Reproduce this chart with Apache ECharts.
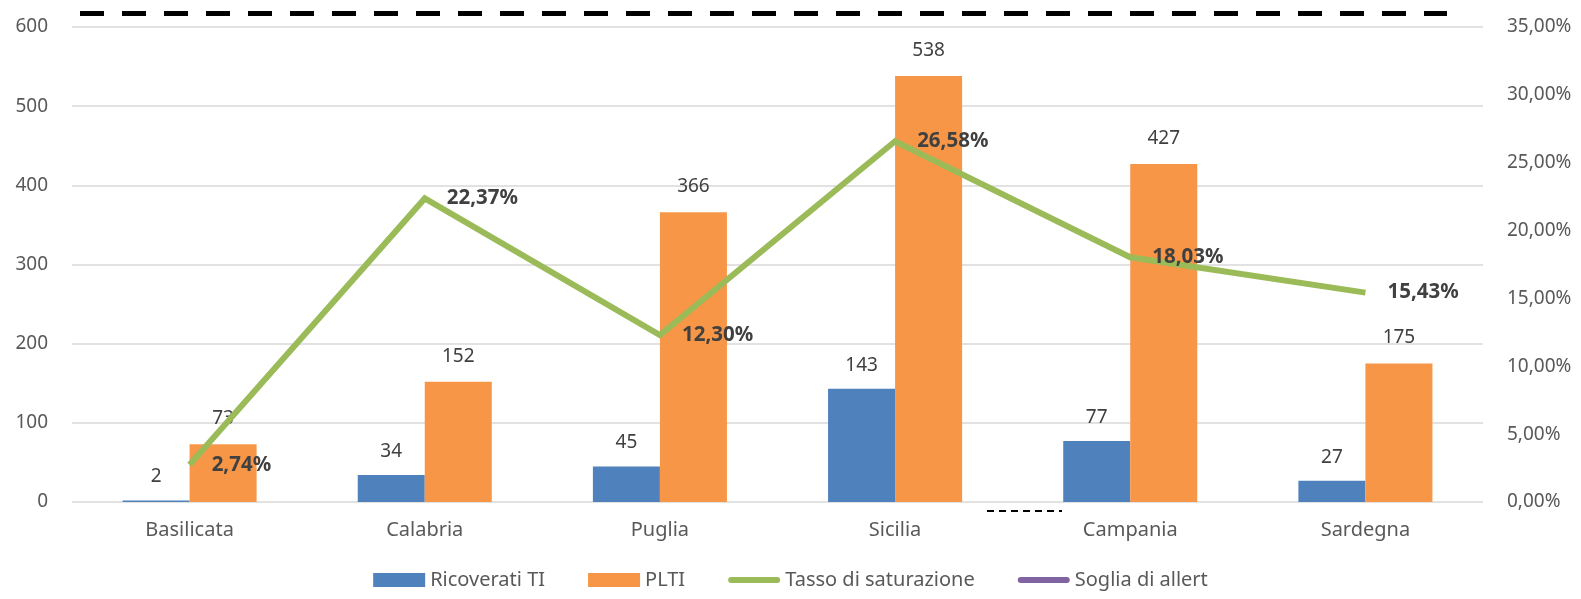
<!DOCTYPE html>
<html>
<head>
<meta charset="utf-8">
<script src="https://cdn.jsdelivr.net/npm/echarts@6/dist/echarts.min.js"></script>
<style>
html,body{margin:0;padding:0;background:#fff;}
#chart{width:1581px;height:599px;}
</style>
</head>
<body>
<div id="chart"></div>
<script>
const categories = ['Basilicata', 'Calabria', 'Puglia', 'Sicilia', 'Campania', 'Sardegna'];
const ricoverati = [2, 34, 45, 143, 77, 27];
const plti = [73, 152, 366, 538, 427, 175];
const tasso = [0.0274, 0.2237, 0.1230, 0.2658, 0.1803, 0.1543];
const sogliaLevel = 0.36;
const leftTicks = { min: 0, max: 600, interval: 100 };
const rightTicks = { min: 0, max: 0.35, interval: 0.05 };

const FONT = 'Noto Sans';
const pct = v => (v * 100).toFixed(2).replace('.', ',') + '%';
const lineIcon = 'path://M3,0 L49,0 A3,3 0 0 1 49,6 L3,6 A3,3 0 0 1 3,0 Z';

const chart = echarts.init(document.getElementById('chart'));
chart.setOption({
  animation: false,
  textStyle: { fontFamily: FONT },
  grid: [
    { left: 72, right: 98, top: 27, bottom: 97, containLabel: false },
    { left: 80, right: 134, top: 0, bottom: 97, containLabel: false }
  ],
  legend: {
    bottom: 4,
    left: 'center',
    itemWidth: 52,
    itemHeight: 14,
    itemGap: 43,
    symbolKeepAspect: true,
    textStyle: { fontFamily: FONT, fontSize: 20, color: '#595959' },
    data: [
      { name: 'Ricoverati TI', icon: 'rect' },
      { name: 'PLTI', icon: 'rect' },
      { name: 'Tasso di saturazione', icon: lineIcon },
      { name: 'Soglia di allert', icon: lineIcon }
    ]
  },
  xAxis: [
    {
      type: 'category',
      data: categories,
      axisLine: { show: false },
      axisTick: { show: false },
      axisLabel: { fontFamily: FONT, fontSize: 20, color: '#595959', margin: 18 }
    },
    {
      type: 'category',
      gridIndex: 1,
      data: categories,
      show: false
    }
  ],
  yAxis: [
    {
      type: 'value',
      min: leftTicks.min, max: leftTicks.max, interval: leftTicks.interval,
      axisLine: { show: false }, axisTick: { show: false },
      splitLine: { lineStyle: { color: '#d9d9d9', width: 1.5 } },
      axisLabel: { fontFamily: FONT, fontSize: 19, color: '#595959', margin: 24 }
    },
    {
      type: 'value',
      min: rightTicks.min, max: rightTicks.max, interval: rightTicks.interval,
      axisLine: { show: false }, axisTick: { show: false },
      splitLine: { show: false },
      axisLabel: { fontFamily: FONT, fontSize: 19, color: '#595959', margin: 24, formatter: pct }
    },
    {
      type: 'value',
      gridIndex: 1,
      min: 0, max: 0.37,
      show: false,
      splitLine: { show: false }
    }
  ],
  series: [
    {
      name: 'Ricoverati TI',
      type: 'bar',
      data: ricoverati,
      barWidth: '28.5%',
      barGap: '0%',
      itemStyle: { color: '#4F81BD' },
      label: { show: true, position: 'top', distance: 14, fontFamily: FONT, fontSize: 19, color: '#404040' }
    },
    {
      name: 'PLTI',
      type: 'bar',
      data: plti,
      barWidth: '28.5%',
      barGap: '0%',
      itemStyle: { color: '#F79646' },
      label: { show: true, position: 'top', distance: 16, fontFamily: FONT, fontSize: 19, color: '#404040' }
    },
    {
      name: 'Tasso di saturazione',
      type: 'line',
      yAxisIndex: 1,
      data: tasso,
      symbol: 'circle',
      showSymbol: true,
      symbolSize: 0.1,
      clip: false,
      lineStyle: { color: '#9BBB59', width: 6, join: 'miter' },
      itemStyle: { color: '#9BBB59' },
      label: {
        show: true, position: 'right', distance: 22,
        fontFamily: FONT, fontSize: 20.5, fontWeight: 'bold', color: '#404040',
        formatter: p => pct(p.value)
      },
      z: 5
    },
    {
      name: 'Soglia di allert',
      type: 'line',
      xAxisIndex: 1,
      yAxisIndex: 2,
      data: categories.map(() => null),
      symbol: 'none',
      clip: false,
      lineStyle: { color: '#8064A2', width: 5 },
      itemStyle: { color: '#8064A2' },
      markLine: {
        silent: true,
        symbol: ['none', 'none'],
        label: { show: false },
        lineStyle: { color: '#000000', width: 5, type: [24, 18], opacity: 1 },
        data: [{ yAxis: sogliaLevel }]
      }
    }
  ],
  graphic: [
    {
      type: 'line',
      shape: { x1: 987, y1: 511, x2: 1062, y2: 511 },
      style: { stroke: '#000', lineWidth: 2, lineDash: [7, 5] },
      silent: true
    }
  ]
});
</script>
</body>
</html>
